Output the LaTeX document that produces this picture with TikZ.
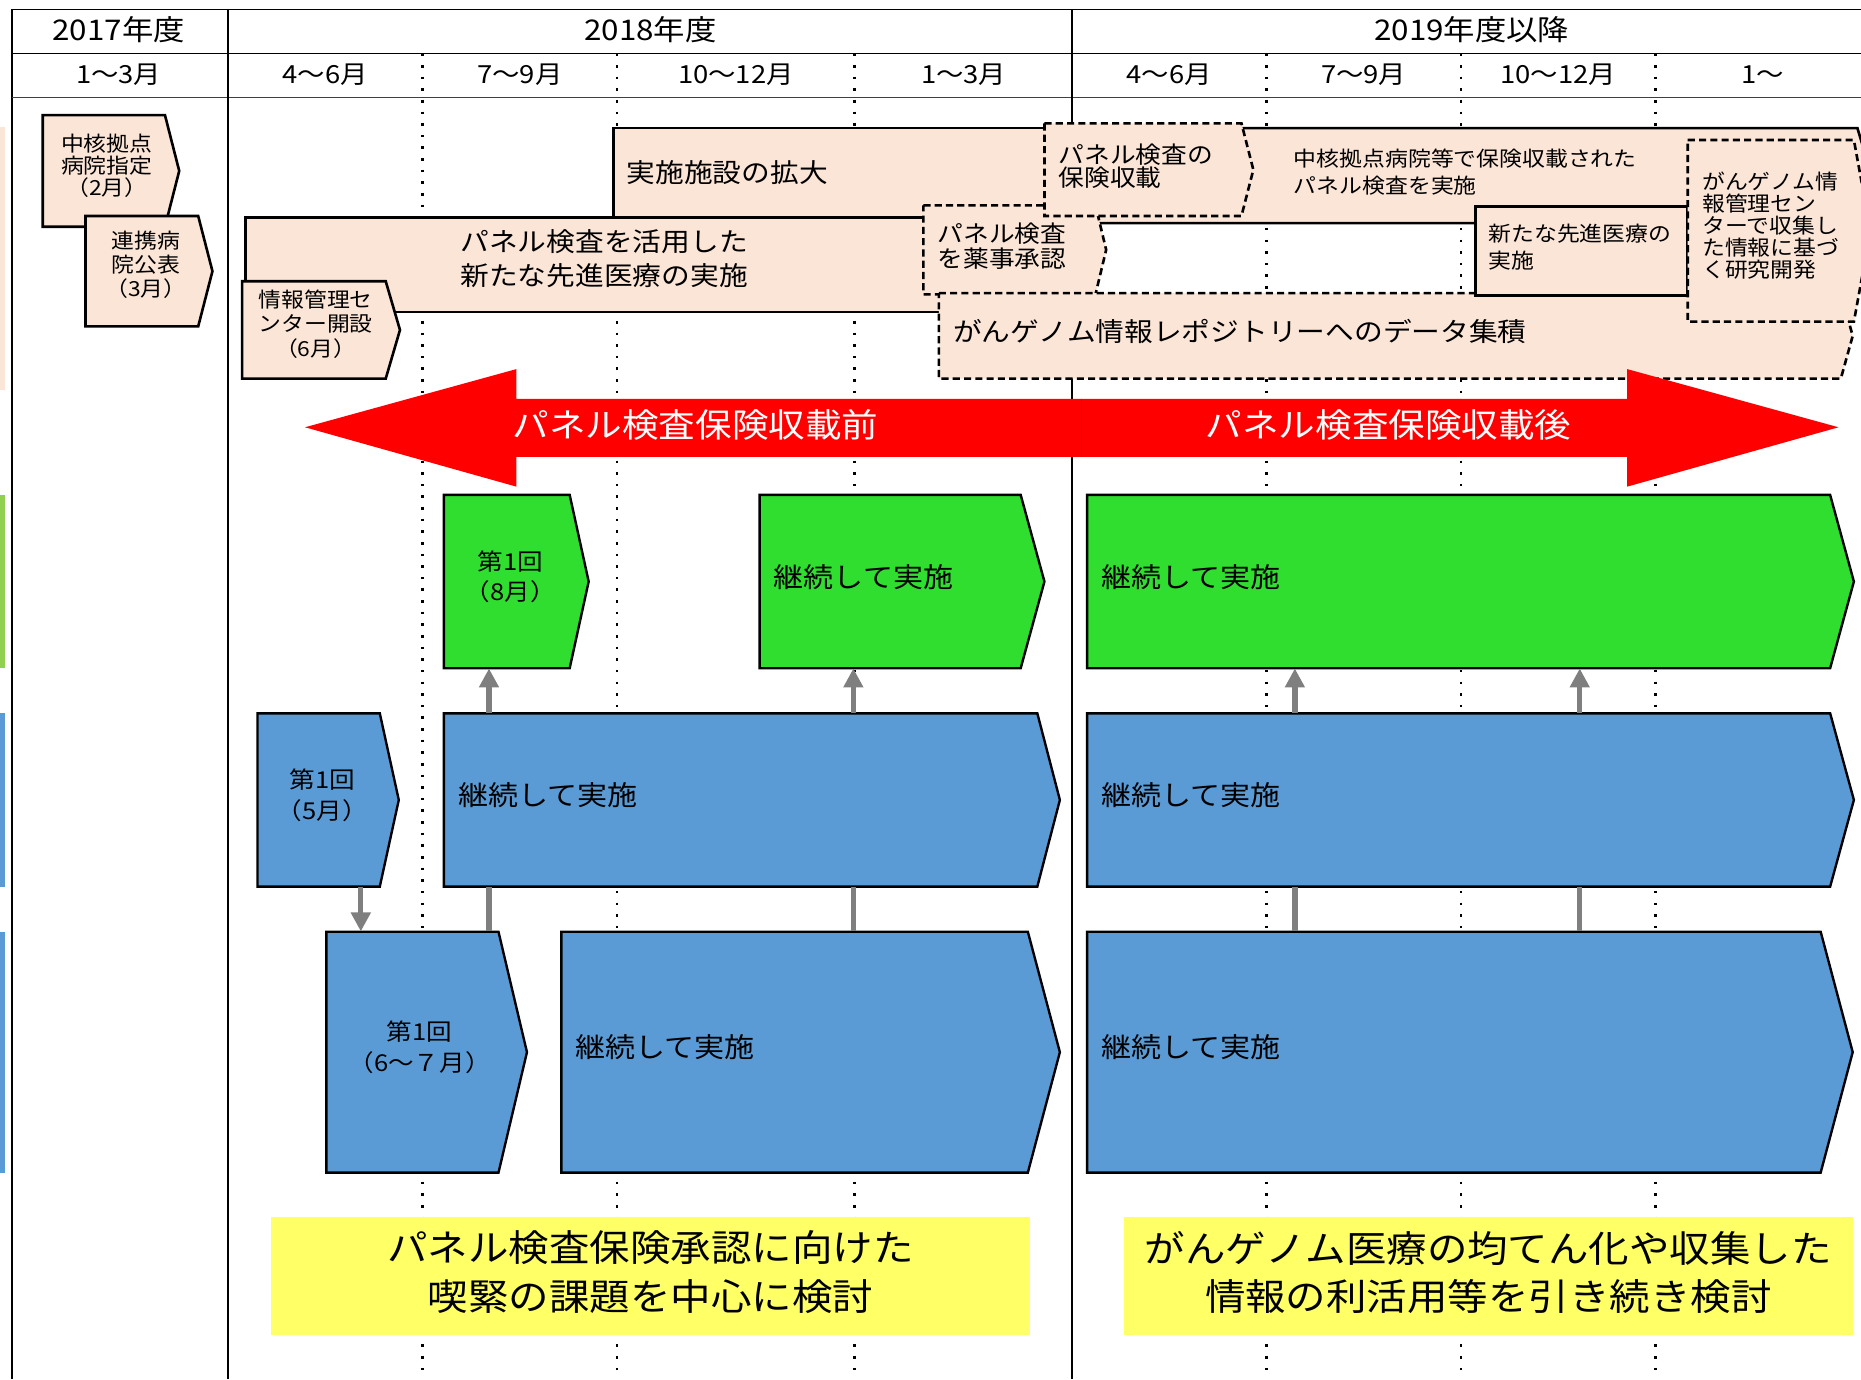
\documentclass[tikz,border=0pt]{standalone}
\usepackage{fontspec}
\setmainfont{Noto Sans CJK JP}[FakeStretch=1.1]
\usetikzlibrary{positioning}
\usetikzlibrary{fit}
\usetikzlibrary{calc}
\usetikzlibrary{arrows.meta}

\definecolor{peach}{HTML}{FBE5D6}
\definecolor{leaf}{HTML}{2FDE2F}
\definecolor{sky}{HTML}{5B9BD5}
\definecolor{lime}{HTML}{92D050}
\definecolor{lemon}{HTML}{FFFF66}
\definecolor{slate}{HTML}{7F7F7F}

% box with a pointed right end: \homeplate[style]{name}{top left}{bottom right}{tip}
\newcommand{\homeplate}[5][]{%
  \coordinate (#2nw) at (#3);
  \coordinate (#2se) at (#4);
  \coordinate (#2ne) at (#2nw -| #2se);
  \draw[#1] (#2nw) -- (#2ne) -- ($(#2ne)!0.5!(#2se)+(#5,0)$)
    -- (#2se) -- (#2se -| #2nw) -- cycle;
  \node[fit={(#2nw) (#2se)}, inner sep=0pt] (#2) {};
}

\begin{document}
\begin{tikzpicture}[x=1pt, y=-1pt,
            fs/.style 2 args={font=\fontsize{#1pt}{#2pt}\selectfont, inner sep=0pt},
            frame/.style={line width=1.5pt},
            dotline/.style={line width=2.2pt, dash pattern=on 2.2pt off 7.6pt},
            pbox/.style={draw=black, line width=2.2pt, fill=peach},
            pdash/.style={pbox, dash pattern=on 6pt off 3.5pt},
            gbox/.style={draw=black, line width=2pt, fill=leaf},
            bbox/.style={draw=black, line width=2pt, fill=sky},
            cont/.style={fs={23}{28}, yshift=4pt},
            meet/.style={fs={19.6}{26}, align=center, xshift=3pt, yshift=4pt},
            link/.style={draw=slate, line width=4.5pt},
            memo/.style={fill=lemon, inner sep=0pt},
            memotext/.style={fs={31}{41}, align=center, yshift=3pt},
            >={Triangle[width=16pt,length=16pt]}]
        \useasboundingbox (0,0) rectangle (1568,1162);
        \clip (0,0) rectangle (1568,1162);

        % row marks at the left edge
        \fill[peach] (0,107) rectangle (4,329);
        \fill[lime] (0,417) rectangle (4,563);
        \fill[sky] (0,601) rectangle (4,747);
        \fill[sky] (0,785) rectangle (4,988);

        % time grid
        \foreach \x in {356,520,720,1067,1231,1395}
            \draw[dotline] (\x,45) -- (\x,1162);
        \draw[frame] (10,1162) -- (10,8) -- (1568,8);
        \draw[frame] (10,45) -- (1568,45);
        \draw[line width=1pt, black!75] (10,82) -- (1568,82);
        \draw[frame] (192,8) -- (192,1162);
        \draw[frame] (903,8) -- (903,1162);

        \node[fs={24}{28}] (fy17) at (100,25) {2017年度};
        \node[fs={24}{28}] (fy18) at (548,25) {2018年度};
        \node[fs={24}{28}] (fy19) at (1240,25) {2019年度以降};
        \foreach \x/\m [count=\i] in {100/1～3月,274/4～6月,438/7～9月,620/10～12月,812/1～3月,985/4～6月,1149/7～9月,1313/10～12月,1485/1～}
            \node[fs={21}{24}] (q\i) at (\x,63) {\m};

        % milestones
        \homeplate[pbox]{kaku}{36,97}{139,191}{12}
        \node[fs={17.5}{18.5}, align=center] (kakuT) at (90,140) {中核拠点\\病院指定\\（2月）};
        \homeplate[pbox]{renkei}{72,182}{167,275}{12}
        \node[fs={17.5}{20}, align=center] (renkeiT) at (123,223) {連携病\\院公表\\（3月）};

        \node[pbox, fit={(207,183) (800,263)}, inner sep=0pt] (katsuyo) {};
        \node[fs={22}{29}, align=center] (katsuyoT) at (509,218) {パネル検査を活用した\\新たな先進医療の実施};
        \node[pbox, fit={(517,108) (885,183)}, inner sep=0pt] (kakudai) {};
        \node[fs={22}{26}, right=12pt of kakudai.west] (kakudaiT) {実施施設の拡大};
        \homeplate[pbox]{chukaku}{905,108}{1565,188}{12}
        \node[fs={17.5}{22.5}, align=left, anchor=west] (chukakuT) at (1090,145) {中核拠点病院等で保険収載された\\パネル検査を実施};
        \homeplate[pdash]{yakuji}{778,173}{923,248}{9}
        \node[fs={19.7}{21}, align=left, right=12pt of yakuji.west, yshift=3pt] (yakujiT) {パネル検査\\を薬事承認};
        \homeplate[pdash]{shusai}{880,104}{1046,182}{10}
        \node[fs={19.7}{19.5}, align=left, right=12pt of shusai.west, yshift=3pt] (shusaiT) {パネル検査の\\保険収載};
        \homeplate[pdash]{repo}{791,247}{1551,319}{10}
        \node[fs={22}{26}, right=12pt of repo.west, yshift=4pt] (repoT) {がんゲノム情報レポジトリーへのデータ集積};
        \node[pbox, fit={(1243,174) (1422,249)}, inner sep=0pt] (shinta) {};
        \node[fs={17.5}{22.5}, align=left, right=12pt of shinta.west, yshift=3pt] (shintaT) {新たな先進医療の\\実施};
        \homeplate[pdash]{kenkyu}{1422,118}{1562,271}{14}
        \node[fs={17.5}{18.6}, align=left, anchor=west] (kenkyuT) at (1434,190) {がんゲノム情\\報管理セン\\ターで収集し\\た情報に基づ\\く研究開発};
        \homeplate[pbox]{joho}{204,237}{325,319}{12}
        \node[fs={17.5}{20.5}, align=center] (johoT) at (266,273) {情報管理セ\\ンター開設\\（6月）};

        % before / after
        \fill[red] (911,336) -- (435,336) -- (435,311) -- (257,360) -- (435,410) -- (435,385) -- (911,385) -- cycle;
        \fill[red] (911,336) -- (1371,336) -- (1371,311) -- (1549,360) -- (1371,410) -- (1371,385) -- (911,385) -- cycle;
        \draw[red!80!black, line width=0.6pt] (911,336) -- (911,385);
        \node[fs={28}{30}, text=white] (before) at (586,358) {パネル検査保険収載前};
        \node[fs={28}{30}, text=white] (after) at (1170,358) {パネル検査保険収載後};

        % meetings
        \homeplate[gbox]{gA}{374,417}{480,563}{16}
        \node[meet] (gAT) at (gA) {第1回\\（8月）};
        \homeplate[gbox]{gB}{640,417}{860,563}{20}
        \node[cont, right=12pt of gB.west] (gBT) {継続して実施};
        \homeplate[gbox]{gC}{916,417}{1542,563}{20}
        \node[cont, right=12pt of gC.west] (gCT) {継続して実施};

        \homeplate[bbox]{bA}{217,601}{320,747}{16}
        \node[meet] (bAT) at (bA) {第1回\\（5月）};
        \homeplate[bbox]{bB}{374,601}{874,747}{19}
        \node[cont, right=12pt of bB.west] (bBT) {継続して実施};
        \homeplate[bbox]{bC}{916,601}{1542,747}{20}
        \node[cont, right=12pt of bC.west] (bCT) {継続して実施};

        \homeplate[bbox]{cA}{275,785}{420,988}{24}
        \node[meet, xshift=3pt] (cAT) at (cA) {第1回\\（6～７月）};
        \homeplate[bbox]{cB}{473,785}{866,988}{27}
        \node[cont, right=12pt of cB.west] (cBT) {継続して実施};
        \homeplate[bbox]{cC}{916,785}{1534,988}{27}
        \node[cont, right=12pt of cC.west] (cCT) {継続して実施};

        % links between the rows
        \coordinate (k0) at (304,0);
        \coordinate (k1) at (412,0);
        \coordinate (k2) at (719,0);
        \coordinate (k3) at (1091,0);
        \coordinate (k4) at (1331,0);
        \draw[link, ->] (k0 |- bA.south) -- (k0 |- cA.north);
        \foreach \k/\lo/\mid/\hi in {k1/cA/bB/gA, k2/cB/bB/gB, k3/cC/bC/gC, k4/cC/bC/gC} {
            \draw[link, ->] (\k |- \mid.north) -- (\k |- \hi.south);
            \draw[link] (\k |- \lo.north) -- (\k |- \mid.south);
        }

        % aims
        \node[memo, fit={(228,1025) (868,1125)}] (memoA) {};
        \node[memotext] (memoAT) at (memoA) {パネル検査保険承認に向けた\\喫緊の課題を中心に検討};
        \node[memo, fit={(947,1025) (1561,1125)}] (memoB) {};
        \node[memotext] (memoBT) at (memoB) {がんゲノム医療の均てん化や収集した\\情報の利活用等を引き続き検討};
    \end{tikzpicture}
\end{document}
